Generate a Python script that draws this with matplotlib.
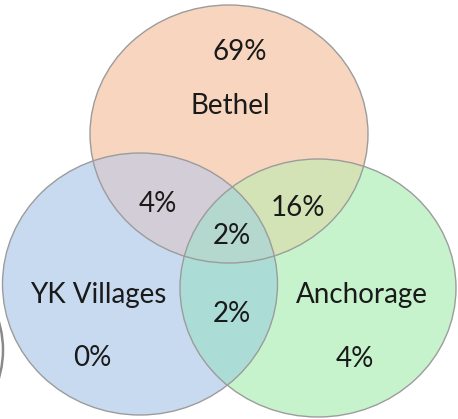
import numpy as np
import matplotlib
matplotlib.use("Agg")
import matplotlib.pyplot as plt
from matplotlib.patches import Ellipse, Polygon, Arc

# Data
sets = ["Bethel", "YK Villages", "Anchorage"]
region_labels = {
    "B": "69%", "Y": "0%", "A": "4%",
    "BY": "4%", "BA": "16%", "YA": "2%", "BYA": "2%",
}

# Geometry (pixel units)
centers = {"B": (229, 134), "Y": (140, 284), "A": (318, 288)}
sizes = {"B": (278, 258), "Y": (275, 262), "A": (276, 258)}
colors = {
    "B": "#F7D5BF", "Y": "#C8DAEF", "A": "#C6F3CB",
    "BY": "#D2CDD6", "BA": "#D4E3B5", "YA": "#ABDCD6", "BYA": "#B4D7CE",
}

fig = plt.figure(figsize=(4.58, 4.19), dpi=100)
ax = fig.add_axes([0, 0, 1, 1])
ax.set_xlim(0, 458)
ax.set_ylim(419, 0)
ax.axis("off")


def ell_pts(k, n=720):
    cx, cy = centers[k]
    w, h = sizes[k]
    t = np.linspace(0, 2 * np.pi, n, endpoint=False)
    return np.column_stack([cx + w / 2 * np.cos(t), cy + h / 2 * np.sin(t)])


def inside(k, p):
    cx, cy = centers[k]
    w, h = sizes[k]
    return ((p[:, 0] - cx) / (w / 2)) ** 2 + ((p[:, 1] - cy) / (h / 2)) ** 2 <= 1.0


def intersection(keys):
    pts = []
    for k in keys:
        p = ell_pts(k)
        m = np.ones(len(p), bool)
        for o in keys:
            if o != k:
                m &= inside(o, p)
        pts.append(p[m])
    pts = np.vstack(pts)
    c = pts.mean(axis=0)
    ang = np.arctan2(pts[:, 1] - c[1], pts[:, 0] - c[0])
    return pts[np.argsort(ang)]


# single circles
for k in ["B", "Y", "A"]:
    ax.add_patch(Ellipse(centers[k], *sizes[k], facecolor=colors[k], edgecolor="none", zorder=1))
# pairwise
for pair in [("B", "Y"), ("B", "A"), ("Y", "A")]:
    poly = intersection(list(pair))
    ax.add_patch(Polygon(poly, closed=True, facecolor=colors["".join(pair)], edgecolor="none", zorder=2))
poly = intersection(["B", "Y", "A"])
ax.add_patch(Polygon(poly, closed=True, facecolor=colors["BYA"], edgecolor="none", zorder=3))
# outlines
for k in ["B", "Y", "A"]:
    ax.add_patch(Ellipse(centers[k], *sizes[k], facecolor="none", edgecolor="#9C9C9C", lw=1.0, zorder=4))

# partial shape at left edge
ax.add_patch(Arc((-70, 350), 146, 170, theta1=-35, theta2=35, edgecolor="#8A8A8A", lw=1.8, zorder=4))

font = dict(family=["Lato", "DejaVu Sans"], color="#1a1a1a", ha="center", va="center", zorder=5)
fs = 20
ax.text(240, 52, region_labels["B"], fontsize=fs, **font)
ax.text(230, 106, sets[0], fontsize=fs, **font)
ax.text(158, 204, region_labels["BY"], fontsize=fs, **font)
ax.text(298, 208, region_labels["BA"], fontsize=fs, **font)
ax.text(232, 236, region_labels["BYA"], fontsize=fs, **font)
ax.text(98, 295, sets[1], fontsize=fs, **font)
ax.text(362, 295, sets[2], fontsize=fs, **font)
ax.text(232, 314, region_labels["YA"], fontsize=fs, **font)
ax.text(92, 358, region_labels["Y"], fontsize=fs, **font)
ax.text(355, 359, region_labels["A"], fontsize=fs, **font)

fig.savefig("out.png", dpi=100)
